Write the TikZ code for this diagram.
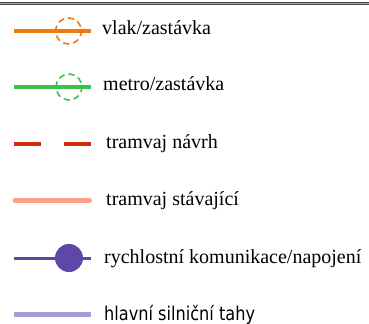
\documentclass[tikz,border=0pt]{standalone}
\usepackage{fontspec}
\setmainfont{Liberation Serif}
\newfontfamily\roadfont[FakeStretch=0.85]{DejaVu Sans}
\definecolor{trainc}{HTML}{F07A10}
\definecolor{metroc}{HTML}{3CC24A}
\definecolor{tramnew}{HTML}{D22A0C}
\definecolor{tramold}{HTML}{FF9F8A}
\definecolor{expressc}{HTML}{5E47A8}
\definecolor{mainroad}{HTML}{A79BD4}
\definecolor{rulec}{HTML}{4A4A4A}
\begin{document}
\begin{tikzpicture}[x=1bp,y=-1bp,
  lbl/.style={anchor=base west,inner sep=0pt,font=\fontsize{20bp}{24bp}\selectfont},
  rlbl/.style={anchor=base west,inner sep=0pt,font=\roadfont\fontsize{19bp}{23bp}\selectfont},
  stopring/.style={circle,dash pattern=on 6.2bp off 4bp,line width=1.6bp,minimum size=26bp,inner sep=0pt},
  junction/.style={circle,fill=expressc,minimum size=28bp,inner sep=0pt}]
\useasboundingbox (0,0) rectangle (369,324);
% top rule
\coordinate (r1) at (0,3.5);
\coordinate (r2) at (369,3.5);
\draw[rulec,line width=2.6bp] (r1) -- (r2);
\draw[gray!70,line width=0.8bp] (r1) -- (r2);
% row 1 train
\coordinate (a1) at (14,31);
\coordinate (a2) at (91,31);
\draw[trainc,line width=3.4bp] (a1) -- (a2);
\node[stopring,draw=trainc,rotate=20] (astop) at (68.5,31) {};
\node[lbl] (atext) at (102,34) {vlak/zastávka};
% row 2 metro
\coordinate (b1) at (14,87);
\coordinate (b2) at (91,87);
\draw[metroc,line width=3.6bp] (b1) -- (b2);
\node[stopring,draw=metroc,rotate=20] (bstop) at (69,87) {};
\node[lbl] (btext) at (103,90) {metro/zastávka};
% row 3 tram proposal
\coordinate (c1) at (14,144.3);
\coordinate (c2) at (91,144.3);
\draw[tramnew,line width=3.8bp,dash pattern=on 27bp off 23bp] (c1) -- (c2);
\node[lbl] (ctext) at (106,148) {tramvaj návrh};
% row 4 tram existing
\coordinate (d1) at (15,200.3);
\coordinate (d2) at (89.5,200.3);
\draw[tramold,line width=5bp,line cap=round] (d1) -- (d2);
\node[lbl] (dtext) at (106,205) {tramvaj stávající};
% row 5 express road
\coordinate (e1) at (14,258.3);
\coordinate (e2) at (91,258.3);
\draw[expressc,line width=3.6bp] (e1) -- (e2);
\node[junction] (ejunc) at (69,258) {};
\node[lbl] (etext) at (104,263) {rychlostní komunikace/napojení};
% row 6 main roads
\coordinate (f1) at (14,314.3);
\coordinate (f2) at (91,314.3);
\draw[mainroad,line width=5.2bp] (f1) -- (f2);
\node[rlbl] (ftext) at (104,320) {hlavní silniční tahy};
\end{tikzpicture}
\end{document}
